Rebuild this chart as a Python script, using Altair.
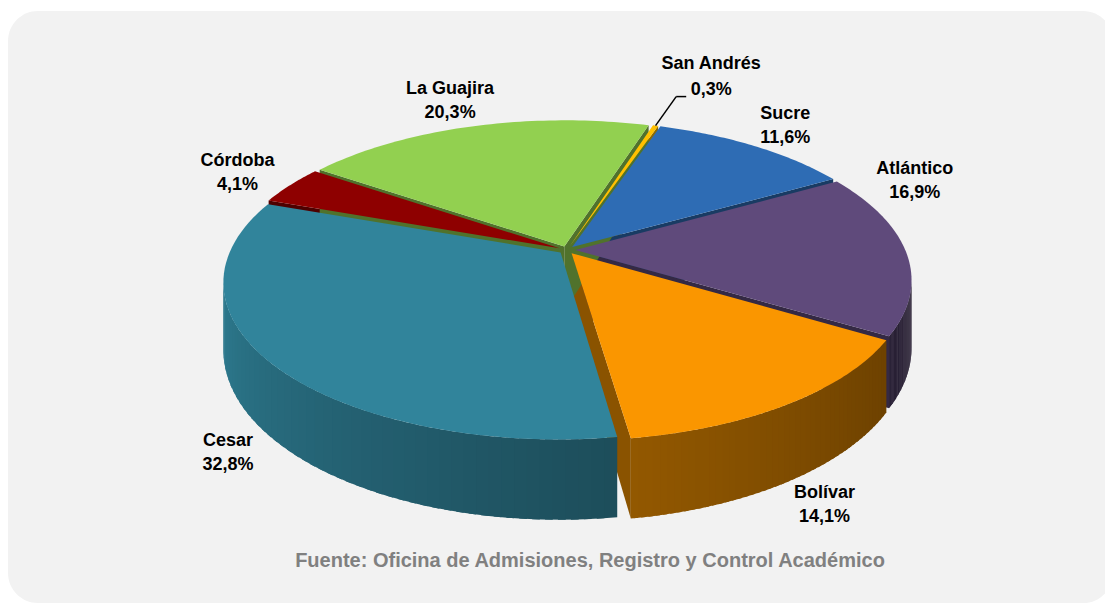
import math
import altair as alt
import pandas as pd

# ---- datos ----
departamentos = ["San Andrés", "Sucre", "Atlántico", "Bolívar", "Cesar", "Córdoba", "La Guajira"]
porcentajes = [0.3, 11.6, 16.9, 14.1, 32.8, 4.1, 20.3]
colores = ["#ffc000", "#2e6cb4", "#5f4a7b", "#fa9600", "#31849b", "#8e0000", "#92d050"]
fuente = ["Fuente: Oficina de Admisiones, Registro y Control Académico"]

# ---- geometría (perspectiva del pastel 3D) ----
W, H = 1097, 595
CX, CY = 567, 250
A, B, K = 330, 151, 0.1875
D = 65
E = 0.025
START = 17.5
TH1 = 90 + math.degrees(math.asin(K))
TH2 = 270 - math.degrees(math.asin(K))
RS = 1.32
XMAX = 958
FONT = "Liberation Sans"

df = pd.DataFrame({"dep": departamentos, "pct": porcentajes, "color": colores,
                   "orden": list(range(len(departamentos)))})

xs = alt.Scale(domain=[8, 8 + W], nice=False, zero=False)
ys = alt.Scale(domain=[8, 8 + H], nice=False, zero=False, reverse=True)


def PX(u, v):
    return f"({CX} + {A}*({u})/(1 - {K}*({v})))"


def PY(u, v, z="0"):
    return f"({CY} + ({B}*({v}) + {D}*({z}))/(1 - {K}*({v})))"


def XY(xf, yf):
    return dict(x=alt.X(xf, scale=xs, axis=None), y=alt.Y(yf, scale=ys, axis=None))


def shade(col, f):
    return (f"'rgb(' + round(rgb({col}).r*({f})) + ',' + round(rgb({col}).g*({f})) + ','"
            f" + round(rgb({col}).b*({f})) + ')'")


base = (alt.Chart(df)
        .transform_joinaggregate(total="sum(pct)")
        .transform_window(acum="sum(pct)", sort=[alt.SortField("orden")], frame=[None, 0])
        .transform_calculate(a0=f"{START} + 360*(datum.acum - datum.pct)/datum.total")
        .transform_calculate(a1=f"{START} + 360*datum.acum/datum.total")
        .transform_calculate(r0="datum.a0*PI/180")
        .transform_calculate(r1="datum.a1*PI/180")
        .transform_calculate(rm="(datum.r0 + datum.r1)/2")
        .transform_calculate(ex=f"{E}*sin(datum.rm)")
        .transform_calculate(ey=f"-{E}*cos(datum.rm)")
        .transform_calculate(ptxt="replace(format(datum.pct, '.1f'), '.', ',') + '%'"))

# caras superiores
N = 60
tops = (base
        .transform_calculate(idx=f"sequence(0, {N + 3})")
        .transform_flatten(["idx"])
        .transform_calculate(edge=f"datum.idx > 0 && datum.idx < {N + 2} ? 1 : 0")
        .transform_calculate(ang=f"datum.r0 + (datum.r1 - datum.r0)*clamp(datum.idx - 1, 0, {N})/{N}")
        .transform_calculate(u="datum.ex + datum.edge*sin(datum.ang)")
        .transform_calculate(v="datum.ey - datum.edge*cos(datum.ang)")
        .transform_calculate(px=PX("datum.u", "datum.v"))
        .transform_calculate(py=PY("datum.u", "datum.v"))
        .mark_line(filled=True, strokeWidth=0)
        .encode(**XY("px:Q", "py:Q"), order="idx:Q", detail="dep:N",
                color=alt.Color("color:N", scale=None)))

# paredes exteriores (franjas solapadas con degradado)
M = 48
walls = (base
         .transform_calculate(lo=f"max(datum.a0, {TH1})")
         .transform_calculate(hi=f"min(datum.a1, {TH2})")
         .transform_filter("datum.hi > datum.lo")
         .transform_calculate(s=f"sequence(0, {M})")
         .transform_flatten(["s"])
         .transform_calculate(ta=f"(datum.lo + (datum.hi - datum.lo)*datum.s/{M})*PI/180")
         .transform_calculate(tb=f"min(datum.hi, datum.lo + (datum.hi - datum.lo)*(datum.s + 1.6)/{M})*PI/180")
         .transform_calculate(fdeg=f"datum.lo + (datum.hi - datum.lo)*(datum.s + 0.5)/{M}")
         .transform_calculate(f="0.4 + 0.53*pow(clamp((datum.fdeg - 100)/160, 0, 1), 1.3)")
         .transform_calculate(wc=shade("datum.color", "datum.f"))
         .transform_calculate(key="datum.dep + '_' + datum.s")
         .transform_calculate(j="sequence(0, 4)")
         .transform_flatten(["j"])
         .transform_calculate(ang="datum.j == 0 || datum.j == 3 ? datum.ta : datum.tb")
         .transform_calculate(z="datum.j >= 2 ? 1 : 0")
         .transform_calculate(u="datum.ex + sin(datum.ang)")
         .transform_calculate(v="datum.ey - cos(datum.ang)")
         .transform_calculate(px=PX("datum.u", "datum.v"))
         .transform_calculate(py=PY("datum.u", "datum.v", "datum.z"))
         .mark_line(filled=True, strokeWidth=0)
         .encode(**XY("px:Q", "py:Q"), order="j:Q", detail="key:N",
                 color=alt.Color("wc:N", scale=None)))

# caras radiales visibles
faces = (base
         .transform_calculate(fk="sequence(0, 2)")
         .transform_flatten(["fk"])
         .transform_calculate(fa="datum.fk == 0 ? datum.r0 : datum.r1")
         .transform_filter("(datum.fk == 0 && sin(datum.fa) < 0) || (datum.fk == 1 && sin(datum.fa) > 0)")
         .transform_calculate(key="datum.dep + '_f' + datum.fk")
         .transform_calculate(fc=shade("datum.color", "0.55"))
         .transform_calculate(j="sequence(0, 4)")
         .transform_flatten(["j"])
         .transform_calculate(rad="datum.j == 1 || datum.j == 2 ? 1 : 0")
         .transform_calculate(z="datum.j >= 2 ? 1 : 0")
         .transform_calculate(u="datum.ex + datum.rad*sin(datum.fa)")
         .transform_calculate(v="datum.ey - datum.rad*cos(datum.fa)")
         .transform_calculate(px=PX("datum.u", "datum.v"))
         .transform_calculate(py=PY("datum.u", "datum.v", "datum.z"))
         .mark_line(filled=True, strokeWidth=0)
         .encode(**XY("px:Q", "py:Q"), order="j:Q", detail="key:N",
                 color=alt.Color("fc:N", scale=None)))

# etiquetas: ancladas al contorno exterior, desplazadas hacia fuera
lab = (base
       .transform_filter("datum.pct >= 1")
       .transform_calculate(vm="-cos(datum.rm)")
       .transform_calculate(au="datum.ex + 1.02*sin(datum.rm)")
       .transform_calculate(av="datum.ey - 1.02*cos(datum.rm)")
       .transform_calculate(az="clamp(datum.vm*3, 0, 1)")
       .transform_calculate(ax=PX("datum.au", "datum.av"))
       .transform_calculate(ay=PY("datum.au", "datum.av", "datum.az"))
       .transform_calculate(hw="max(length(datum.dep), length(datum.ptxt))*4.8")
       .transform_calculate(lx0="datum.ax + sin(datum.rm)*(datum.hw + 20)")
       .transform_calculate(lx=f"min(datum.lx0, {XMAX} - datum.hw)")
       .transform_calculate(ly="datum.ay - cos(datum.rm)*24 - (datum.lx0 - datum.lx)*1.2"))
tstyle = dict(font=FONT, fontSize=18, fontWeight="bold", color="black")
names = lab.mark_text(dy=-12, **tstyle).encode(**XY("lx:Q", "ly:Q"), text="dep:N")
pcts = lab.mark_text(dy=12, **tstyle).encode(**XY("lx:Q", "ly:Q"), text="ptxt:N")

# porciones pequeñas: etiqueta con línea guía
small = (base
         .transform_filter("datum.pct < 1")
         .transform_calculate(su="datum.ex + sin(datum.rm)")
         .transform_calculate(sv="datum.ey - cos(datum.rm)")
         .transform_calculate(sx=PX("datum.su", "datum.sv"))
         .transform_calculate(sy=PY("datum.su", "datum.sv"))
         .transform_calculate(eu=f"{RS}*sin(datum.rm)")
         .transform_calculate(ev=f"-{RS}*cos(datum.rm)")
         .transform_calculate(qx=PX("datum.eu", "datum.ev"))
         .transform_calculate(qy=PY("datum.eu", "datum.ev"))
         .transform_calculate(tx="datum.qx + 10")
         .transform_calculate(cx2="datum.tx + 25"))
rule1 = small.mark_rule(color="black", strokeWidth=1.5).encode(
    **XY("sx:Q", "sy:Q"), x2="qx:Q", y2="qy:Q")
rule2 = small.mark_rule(color="black", strokeWidth=1.5).encode(
    **XY("qx:Q", "qy:Q"), x2="tx:Q", y2="qy:Q")
snames = small.mark_text(dy=-33, **tstyle).encode(**XY("cx2:Q", "qy:Q"), text="dep:N")
spcts = small.mark_text(dy=-7, **tstyle).encode(**XY("cx2:Q", "qy:Q"), text="ptxt:N")

# fondo y fuente
bg = alt.Chart(pd.DataFrame({"a": [0]})).mark_rect(color="#f2f2f2", cornerRadius=30).encode(
    x=alt.value(0), x2=alt.value(1105), y=alt.value(3), y2=alt.value(H))
src = alt.Chart(pd.DataFrame({"t": fuente})).mark_text(
    font=FONT, fontSize=20, fontWeight="bold", color="#808080").encode(
    x=alt.value(590 - 8), y=alt.value(561 - 8), text="t:N")

chart = alt.layer(bg, faces, walls, tops, rule1, rule2, names, pcts, snames, spcts, src).properties(
    width=W, height=H, padding=0, autosize="none", background="white"
).configure_view(stroke=None)

chart.save("out.html", embed_options={"renderer": "svg", "actions": False})
